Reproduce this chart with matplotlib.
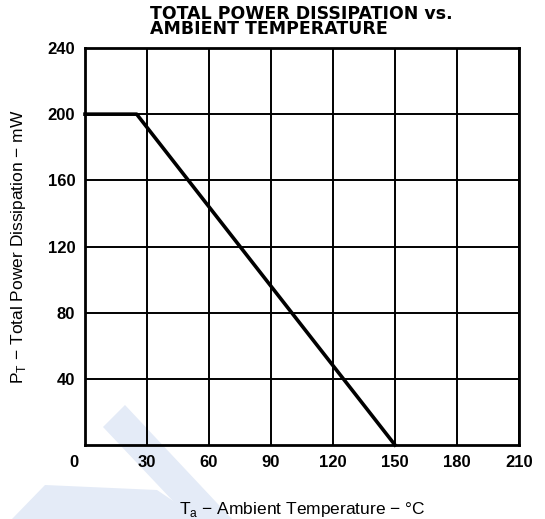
import matplotlib
matplotlib.use("Agg")
import matplotlib.pyplot as plt
from matplotlib.patches import Polygon

plt.rcParams['font.family'] = ['Liberation Sans', 'DejaVu Sans']
plt.rcParams['mathtext.fontset'] = 'custom'
plt.rcParams['mathtext.rm'] = 'Liberation Sans'

# derating curve
temp_c = [0, 25, 150]
power_mw = [200, 200, 0]

x_ticks = [30, 60, 90, 120, 150, 180, 210]
y_ticks = [40, 80, 120, 160, 200, 240]

fig = plt.figure(figsize=(5.45, 5.19), dpi=100)

# faint watermark bands in the lower left
W, H = 545, 519
def px(pts):
    return [(x / W, 1 - y / H) for x, y in pts]
for pts in ([(103, 427), (125, 405), (232, 519), (190, 519)],
            [(45, 485), (157, 490), (200, 519), (12, 519)]):
    fig.patches.append(Polygon(px(pts), closed=True, transform=fig.transFigure,
                               facecolor='#e4ebf7', edgecolor='none', zorder=-5))

ax = fig.add_axes([85 / W, 1 - 445 / H, 434 / W, 397 / H])
ax.patch.set_alpha(0)
ax.set_xlim(0, 210)
ax.set_ylim(0, 240)
ax.set_xticks(x_ticks)
ax.set_yticks(y_ticks)
ax.grid(True, color='black', linewidth=1.4)
ax.tick_params(length=0, pad=7, labelsize=12)
for lab in ax.get_xticklabels() + ax.get_yticklabels():
    lab.set_fontweight('bold')
for s in ax.spines.values():
    s.set_linewidth(2)

ax.plot(temp_c, power_mw, color='black', linewidth=2.6, clip_on=False, zorder=3)

# origin label shared by both axes
ax.text(-0.015, -0.045, '0', transform=ax.transAxes, ha='right', va='center',
        fontsize=12, fontweight='bold')

ax.set_xlabel(r'T$_{\mathrm{a}}$ $-$ Ambient Temperature $-$ °C', fontsize=12.5, labelpad=22)
ax.set_ylabel(r'P$_{\mathrm{T}}$ $-$ Total Power Dissipation $-$ mW', fontsize=12.5, labelpad=14)

fig.text(150 / W, 1 - 5 / H, 'TOTAL POWER DISSIPATION vs.\nAMBIENT TEMPERATURE',
         ha='left', va='top', fontsize=12.5, fontweight='bold', linespacing=0.82,
         family='DejaVu Sans')

fig.savefig('out.png', dpi=100)
